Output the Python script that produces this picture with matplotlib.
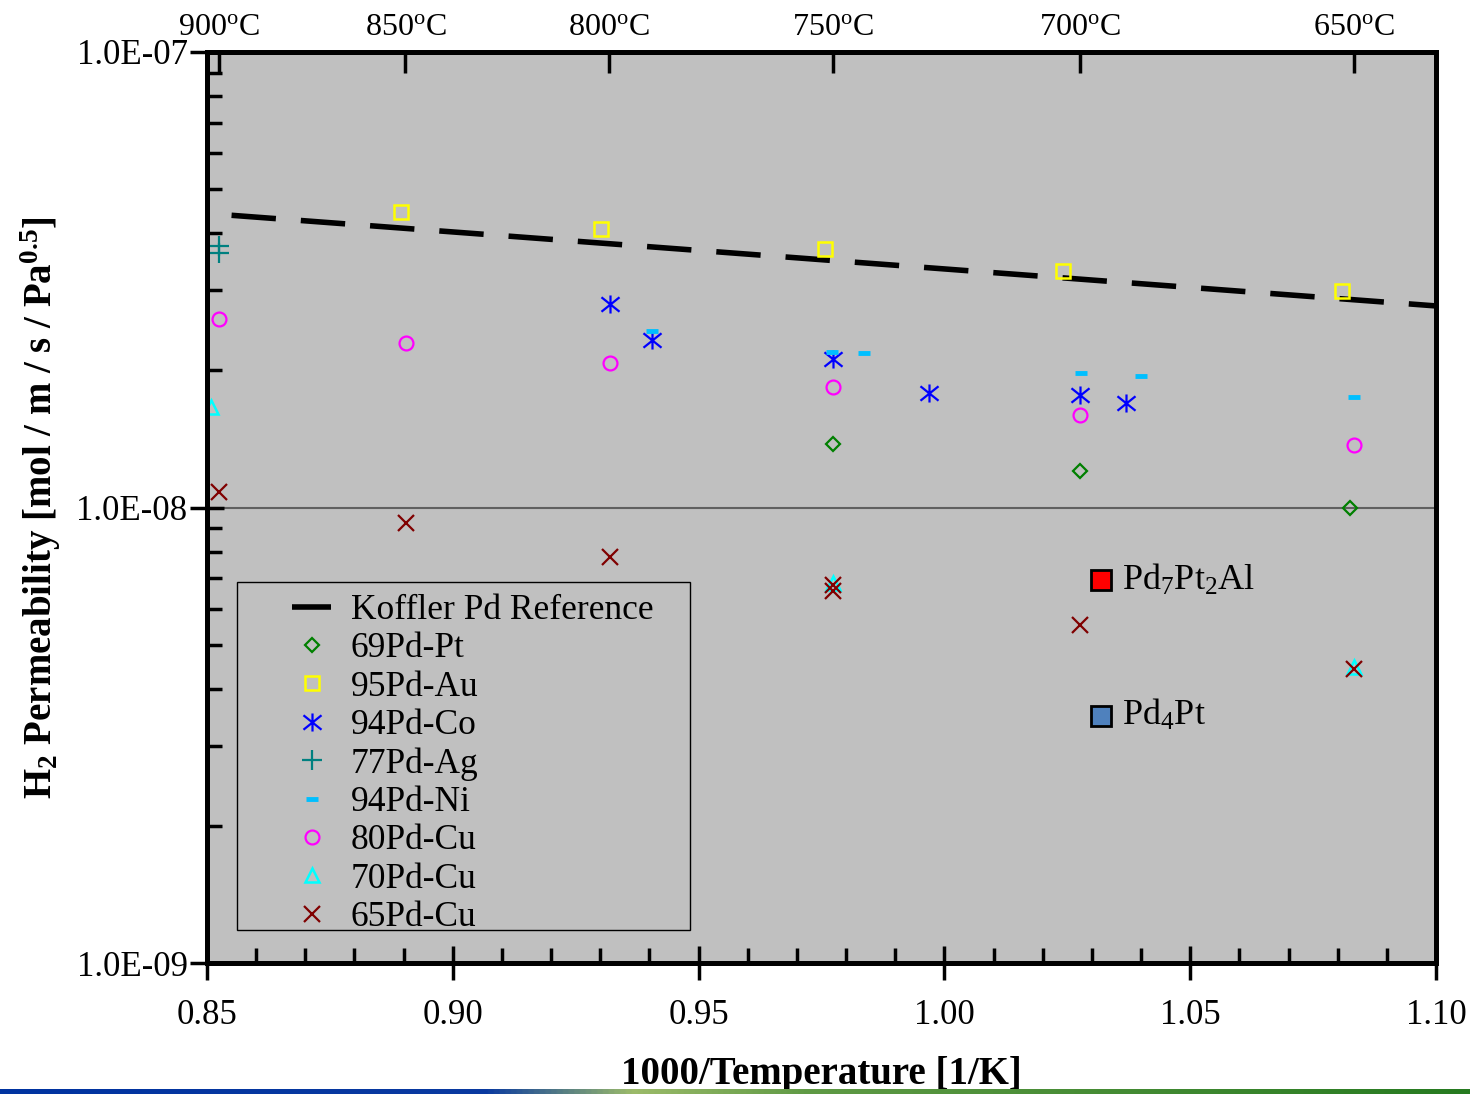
import numpy as np
import matplotlib
matplotlib.use('Agg')
import matplotlib.pyplot as plt
from matplotlib.path import Path
from matplotlib.patches import Rectangle
from matplotlib.colors import LinearSegmentedColormap
from matplotlib.ticker import FuncFormatter, FixedLocator, MultipleLocator, LogLocator

# --- data (x = 1000/T [1/K], y = H2 permeability [mol/m/s/Pa^0.5]) ---
koffler_x = [0.855, 1.10]
koffler_y = [4.38e-8, 2.77e-8]

ptpt_x = [0.9773, 1.0276, 1.0825]
ptpt_y = [1.38e-8, 1.20e-8, 1.00e-8]

au_x = [0.8895, 0.9301, 0.9757, 1.0241, 1.0809]
au_y = [4.45e-8, 4.09e-8, 3.69e-8, 3.30e-8, 2.99e-8]

co_x = [0.9320, 0.9405, 0.9773, 0.9969, 1.0276, 1.0369]
co_y = [2.80e-8, 2.33e-8, 2.12e-8, 1.78e-8, 1.77e-8, 1.70e-8]

ag_x = [0.8524, 0.8524]
ag_y = [3.75e-8, 3.62e-8]

ni_x = [0.9405, 0.9771, 0.9836, 1.0278, 1.0400, 1.0833]
ni_y = [2.44e-8, 2.19e-8, 2.18e-8, 1.97e-8, 1.94e-8, 1.75e-8]

cu80_x = [0.8524, 0.8905, 0.9320, 0.9773, 1.0276, 1.0833]
cu80_y = [2.59e-8, 2.30e-8, 2.08e-8, 1.84e-8, 1.60e-8, 1.37e-8]

cu70_x = [0.8508, 0.9773, 1.0833]
cu70_y = [1.66e-8, 6.83e-9, 4.47e-9]

cu65_x = [0.8524, 0.8905, 0.9320, 0.9773, 0.9773, 1.0276, 1.0833]
cu65_y = [1.081e-8, 9.25e-9, 7.78e-9, 6.76e-9, 6.56e-9, 5.52e-9, 4.42e-9]

alloy_labels = ['Pd$_7$Pt$_2$Al', 'Pd$_4$Pt']
alloy_x = [1.0319, 1.0319]
alloy_y = [6.93e-9, 3.49e-9]
alloy_colors = ['#ff0000', '#4f81bd']

temps_c = [900, 850, 800, 750, 700, 650]

plt.rcParams['font.family'] = ['Liberation Serif', 'DejaVu Serif']
plt.rcParams['mathtext.fontset'] = 'custom'
plt.rcParams['mathtext.rm'] = 'Liberation Serif'
plt.rcParams['mathtext.it'] = 'Liberation Serif:italic'
plt.rcParams['mathtext.bf'] = 'Liberation Serif:bold'

fig = plt.figure(figsize=(14.7, 10.94), dpi=100)
ax = fig.add_axes([0.1408, 0.1197, 0.8361, 0.8328])
ax.set_facecolor('#c0c0c0')

asterisk = Path([(0, -1), (0, 1), (-1, -0.8), (1, 0.8), (-1, 0.8), (1, -0.8)],
                [Path.MOVETO, Path.LINETO] * 3)

ax.plot(koffler_x, koffler_y, color='black', lw=4, dashes=(8, 4.5),
        label='Koffler Pd Reference')
ax.plot(ptpt_x, ptpt_y, ls='none', marker='D', ms=7, mfc='none', mec='#008000',
        mew=1.6, label='69Pd-Pt')
ax.plot(au_x, au_y, ls='none', marker='s', ms=10, mfc='none', mec='#ffff00',
        mew=1.8, label='95Pd-Au')
ax.plot(co_x, co_y, ls='none', marker=asterisk, ms=13, mec='#0000ff',
        mew=1.6, label='94Pd-Co')
ax.plot(ag_x, ag_y, ls='none', marker='+', ms=14, mec='#008080',
        mew=1.6, label='77Pd-Ag')
ax.plot(ni_x, ni_y, ls='none', marker='_', ms=9, mec='#00bfff',
        mew=3.5, label='94Pd-Ni')
ax.plot(cu80_x, cu80_y, ls='none', marker='o', ms=10, mfc='none', mec='#ff00ff',
        mew=1.6, label='80Pd-Cu')
ax.plot(cu70_x, cu70_y, ls='none', marker='^', ms=10, mfc='none', mec='#00ffff',
        mew=1.8, label='70Pd-Cu')
ax.plot(cu65_x, cu65_y, ls='none', marker='x', ms=11, mec='#800000',
        mew=1.6, label='65Pd-Cu')

for lab, x, y, c in zip(alloy_labels, alloy_x, alloy_y, alloy_colors):
    ax.plot(x, y, ls='none', marker='s', ms=14, mfc=c, mec='black', mew=2)
    ax.annotate(lab, (x, y), xytext=(21, 0), textcoords='offset pixels',
                ha='left', va='center', fontsize=26)

ax.set_yscale('log')
ax.set_xlim(0.85, 1.10)
ax.set_ylim(1e-9, 1e-7)

ax.xaxis.set_major_locator(MultipleLocator(0.05))
ax.xaxis.set_minor_locator(MultipleLocator(0.01))
ax.xaxis.set_major_formatter(FuncFormatter(lambda v, p: f'{v:.2f}'))
ax.yaxis.set_major_locator(LogLocator(base=10))
ax.yaxis.set_minor_locator(LogLocator(base=10, subs=np.arange(2, 10)))
ax.yaxis.set_minor_formatter(FuncFormatter(lambda v, p: ''))
ax.yaxis.set_major_formatter(FuncFormatter(lambda v, p: f'{v:.1E}'))

ax.tick_params(axis='both', which='major', direction='inout', length=24, width=2.5,
               labelsize=25)
ax.tick_params(axis='both', which='minor', direction='in', length=11, width=2.5)
ax.tick_params(axis='x', which='major', pad=14)
ax.tick_params(axis='y', which='major', pad=2)
ax.grid(True, axis='y', which='major', color='#606060', lw=1.5)
for s in ax.spines.values():
    s.set_linewidth(3.5)

ax.set_xlabel('1000/Temperature [1/K]', fontsize=28, fontweight='bold', labelpad=17)
ax.set_ylabel(r'H$_\mathbf{2}$ Permeability [mol / m / s / Pa$^\mathbf{0.5}$]',
              fontsize=28, fontweight='bold', labelpad=10)

top = ax.twiny()
top.set_xlim(ax.get_xlim())
top.xaxis.set_major_locator(FixedLocator([1000.0 / (t + 273.15) for t in temps_c]))
top.set_xticklabels([f'{t}$^{{\\rm o}}$C' for t in temps_c])
top.tick_params(axis='x', direction='in', length=15, width=2.5, labelsize=23, pad=7)
for s in top.spines.values():
    s.set_linewidth(3.5)

leg = ax.legend(loc='upper left', bbox_to_anchor=(0.0692, 0.405), borderaxespad=0,
                frameon=False, fontsize=25.5, handlelength=1.1, handletextpad=0.56,
                labelspacing=0.15, borderpad=0)
ax.add_patch(Rectangle((0.0244, 0.036), 0.3686, 0.382, transform=ax.transAxes,
                       fill=False, ec='black', lw=1, zorder=5))

# bottom colour strip
strip = fig.add_axes([0, 0, 1, 5 / 1094])
cmap = LinearSegmentedColormap.from_list(
    'strip', [(0, '#0033a0'), (0.33, '#0a3aa0'), (0.43, '#9cbb6a'), (0.55, '#5f9a45'),
              (1, '#267a20')])
strip.imshow(np.linspace(0, 1, 512)[None, :], aspect='auto', cmap=cmap)
strip.set_axis_off()

fig.savefig('out.png', dpi=100)
